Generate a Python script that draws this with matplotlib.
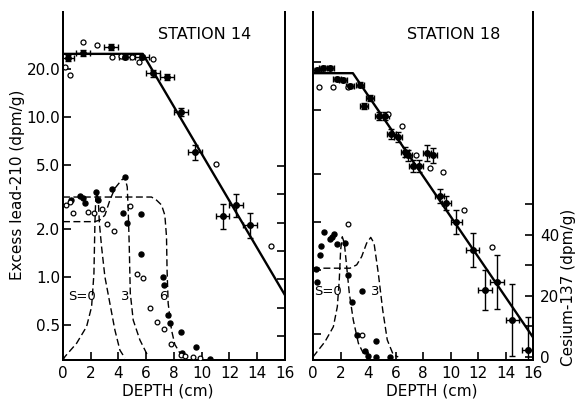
import matplotlib
matplotlib.use("Agg")
import matplotlib.pyplot as plt
from matplotlib.ticker import NullLocator
import numpy as np

plt.rcParams['font.family'] = ['DejaVu Sans']

# ---------------- Station 14 data ----------------
s14_pb_x = [0.35, 1.45, 3.45, 4.45, 5.7, 6.5, 7.5, 8.5, 9.5, 11.5, 12.5, 13.5]
s14_pb_y = [23.4, 25.1, 27.4, 23.7, 23.7, 18.8, 17.8, 10.7, 6.0, 2.4, 2.8, 2.1]
s14_pb_xerr = [0.45, 0.5, 0.5, 0.4, 0.5, 0.5, 0.5, 0.5, 0.5, 0.5, 0.5, 0.5]
s14_pb_yfac = [1.04, 1.04, 1.04, 1.03, 1.03, 1.05, 1.05, 1.06, 1.12, 1.2, 1.18, 1.2]
s14_pb_open_x = [0.15, 0.5, 1.45, 2.45, 3.5, 4.2, 5.0, 5.5, 6.5, 11.0, 15.0]
s14_pb_open_y = [20.5, 18.3, 29.5, 28.3, 23.7, 24.0, 23.8, 22.0, 23.0, 5.1, 1.56]
s14_line_x = [0, 5.75, 16]
s14_line_y = [24.8, 24.8, 0.77]

s14_cs_x = [0.55, 1.2, 1.45, 1.6, 2.4, 2.5, 3.5, 4.5, 4.3, 4.6, 5.6, 5.6,
            7.2, 7.3, 7.6, 7.7, 8.5, 8.6, 9.6, 10.6]
s14_cs_y = [58.0, 59.5, 58.7, 57.0, 60.9, 58.0, 61.9, 66.2, 53.4, 49.9, 53.1, 39.0,
            30.8, 28.0, 17.4, 14.6, 11.4, 4.0, 6.1, 1.9]
s14_cs_open_x = [0.2, 0.5, 0.7, 1.8, 2.2, 2.8, 3.2, 3.7, 4.8, 5.3, 5.8, 6.3,
                 6.8, 7.3, 7.8, 8.5, 8.8, 9.4, 9.9]
s14_cs_open_y = [56.3, 57.3, 53.4, 53.8, 53.4, 54.9, 49.6, 47.1, 55.9, 31.9, 30.5, 19.9,
                 14.9, 12.5, 7.2, 3.3, 2.9, 2.6, 2.2]

# model curves (Cs-137), Station 14
s14_m0_x = [0.0, 0.14, 0.98, 1.7, 2.06, 2.23, 2.3, 2.36, 2.45, 2.54, 2.62, 2.78, 3.02, 3.38, 3.74, 4.1, 4.46]
s14_m0_y = [1.5, 2.7, 7.4, 13.3, 20.3, 32.1, 49.8, 58.5, 60.5, 58.5, 50.0, 41.5, 30.9, 21.5, 12.1, 5.0, 2.2]
s14_m3_x = [0.0, 2.3, 2.66, 3.02, 3.38, 3.74, 4.22, 4.46, 4.63, 4.7, 4.77, 4.85, 5.06, 5.54, 6.14]
s14_m3_y = [50.4, 50.4, 51.0, 52.7, 58.0, 62.2, 65.1, 66.0, 62.7, 54.5, 42.7, 25.1, 15.6, 8.6, 2.7]
s14_m6_x = [0.0, 6.38, 6.74, 7.1, 7.34, 7.46, 7.5, 7.58, 7.82, 8.06, 8.54, 8.8]
s14_m6_y = [59.1, 59.1, 58.0, 56.3, 52.7, 45.1, 33.3, 21.5, 12.1, 7.0, 3.0, 2.0]

# ---------------- Station 18 data ----------------
s18_pb_x = [0.3, 0.75, 1.2, 1.75, 2.2, 2.7, 3.4, 3.7, 4.15, 4.8, 5.2, 5.7, 6.2, 6.7, 6.9,
            7.3, 7.7, 8.3, 8.7, 9.2, 9.7, 10.4, 11.6, 12.5, 13.4, 14.5, 15.6]
s18_pb_y = [8.9, 9.2, 9.2, 7.8, 7.7, 7.1, 7.2, 5.3, 5.95, 4.6, 4.6, 3.55, 3.4, 2.73, 2.6,
            2.24, 2.24, 2.7, 2.6, 1.45, 1.31, 1.0, 0.67, 0.376, 0.42, 0.244, 0.158]
s18_pb_xerr = [0.3, 0.3, 0.3, 0.3, 0.3, 0.3, 0.3, 0.3, 0.3, 0.3, 0.3, 0.3, 0.3, 0.3, 0.3,
               0.3, 0.3, 0.3, 0.3, 0.3, 0.3, 0.4, 0.5, 0.5, 0.5, 0.5, 0.4]
s18_pb_yfac = [1.03, 1.03, 1.03, 1.03, 1.03, 1.03, 1.04, 1.05, 1.05, 1.06, 1.06, 1.07, 1.07,
               1.08, 1.08, 1.09, 1.09, 1.12, 1.12, 1.1, 1.1, 1.19, 1.28, 1.33, 1.47, 1.68, 1.6]
s18_pb_open_x = [0.45, 1.45, 2.55, 5.45, 6.5, 7.5, 8.5, 9.45, 11.0, 13.0]
s18_pb_open_y = [7.0, 7.0, 7.0, 4.7, 4.0, 2.6, 2.17, 2.05, 1.19, 0.70]
s18_line_x = [0, 2.9, 16]
s18_line_y = [8.5, 8.5, 0.19]

s18_cs_x = [0.82, 1.24, 1.4, 1.55, 0.57, 0.5, 1.75, 2.33, 2.55, 2.83, 3.2, 3.55, 3.8,
            4.58, 0.3, 0.2, 4.6, 5.6, 4.0]
s18_cs_y = [41.0, 38.7, 39.3, 40.3, 36.4, 33.4, 37.0, 37.4, 26.9, 18.0, 7.2, 21.6, 2.0,
            5.2, 24.6, 29.0, 0.0, 0.0, 0.2]
s18_cs_open_x = [2.55, 3.55]
s18_cs_open_y = [43.6, 7.2]

s18_m0_x = [0.0, 0.87, 1.48, 1.77, 1.91, 2.01, 2.13, 2.28, 2.45, 2.64, 2.93, 3.3, 3.78]
s18_m0_y = [0.0, 5.0, 9.9, 16.5, 25.2, 35.1, 39.4, 37.3, 29.6, 20.9, 12.1, 4.5, 0.1]
s18_m3_x = [0.0, 2.69, 3.18, 3.54, 3.9, 4.2, 4.44, 4.75, 5.07, 5.4, 5.84, 6.2]
s18_m3_y = [29.1, 29.1, 30.2, 32.9, 37.3, 39.2, 37.3, 27.4, 15.4, 5.6, 0.7, 0.0]

depth_ticks = [0, 2, 4, 6, 8, 10, 12, 14, 16]
pb_ticks_14 = [20, 10, 5, 2, 1, 0.5]
pb_labels_14 = ['20.0', '10.0', '5.0', '2.0', '1.0', '0.5']
pb_ticks_18 = [10, 5, 2, 1, 0.5, 0.2]
cs_ticks_14 = [10, 20, 30, 40, 50, 60, 70]
cs_ticks_18 = [0, 10, 20, 30, 40, 50]
cs_labels_18 = ['0', '', '20', '', '40', '']

FS = 11
fig = plt.figure(figsize=(5.77, 4.0), dpi=100)
ax1 = fig.add_axes([63/577, 40/400, 222/577, 348/400])
ax2 = fig.add_axes([313/577, 40/400, 220/577, 348/400])

def style(ax):
    ax.spines['top'].set_visible(False)
    for s in ['left', 'right', 'bottom']:
        ax.spines[s].set_linewidth(1.4)
    ax.tick_params(direction='in', length=6, width=1.2, labelsize=FS)
    ax.yaxis.set_minor_locator(NullLocator())
    ax.xaxis.set_minor_locator(NullLocator())

def errs(y, f):
    y = np.array(y); f = np.array(f)
    return [y - y / f, y * f - y]

dash = (0, (5, 2.5))

# ---- Station 14 ----
ax = ax1
ax.set_yscale('log')
ax.set_xlim(0, 16)
ax.set_ylim(0.303, 45.3)
ax.plot(s14_line_x, s14_line_y, color='black', lw=1.7, zorder=3)
ax.errorbar(s14_pb_x, s14_pb_y, xerr=s14_pb_xerr, yerr=errs(s14_pb_y, s14_pb_yfac),
            fmt='o', ms=4, color='black', ecolor='black', elinewidth=1.0, capsize=2, zorder=4)
ax.plot(s14_pb_open_x, s14_pb_open_y, 'o', ms=3.6, mfc='white', mec='black', mew=0.9, zorder=4)
ax.set_xticks(depth_ticks)
ax.set_yticks(pb_ticks_14)
ax.set_yticklabels(pb_labels_14)
style(ax)
ax.tick_params(axis='y', pad=2)
ax.tick_params(axis='x', pad=4)
ax.set_xlabel('DEPTH (cm)', fontsize=FS)
ax.xaxis.set_label_coords(0.473, -0.068)
ax.text(0.64, 0.935, 'STATION 14', transform=ax.transAxes, ha='center', va='center', fontsize=11.5)

axc = ax.twinx()
axc.set_ylim(1.5, 124.5)
axc.plot(s14_m0_x, s14_m0_y, color='black', lw=1.0, ls=dash)
axc.plot(s14_m3_x, s14_m3_y, color='black', lw=1.0, ls=dash)
axc.plot(s14_m6_x, s14_m6_y, color='black', lw=1.0, ls=dash)
axc.plot(s14_cs_x, s14_cs_y, 'o', ms=3.6, color='black', zorder=4)
axc.plot(s14_cs_open_x, s14_cs_open_y, 'o', ms=3.4, mfc='white', mec='black', mew=0.9, zorder=4)
axc.set_yticks(cs_ticks_14)
axc.set_yticklabels([])
style(axc)
axc.text(1.4, 24, 'S=0', ha='center', va='center', fontsize=9.5)
axc.text(4.5, 24, '3', ha='center', va='center', fontsize=9.5)
axc.text(7.2, 24, '6', ha='center', va='center', fontsize=9.5)

# ---- Station 18 ----
ax = ax2
ax.set_yscale('log')
ax.set_xlim(0, 16)
ax.set_ylim(0.137, 20.5)
ax.plot(s18_line_x, s18_line_y, color='black', lw=1.7, zorder=3)
ax.errorbar(s18_pb_x, s18_pb_y, xerr=s18_pb_xerr, yerr=errs(s18_pb_y, s18_pb_yfac),
            fmt='o', ms=4, color='black', ecolor='black', elinewidth=1.0, capsize=2, zorder=4)
ax.plot(s18_pb_open_x, s18_pb_open_y, 'o', ms=3.6, mfc='white', mec='black', mew=0.9, zorder=4)
ax.set_xticks(depth_ticks)
ax.set_yticks(pb_ticks_18)
ax.set_yticklabels([])
style(ax)
ax.tick_params(axis='x', pad=4)
ax.set_xlabel('DEPTH (cm)', fontsize=FS)
ax.xaxis.set_label_coords(0.541, -0.068)
ax.text(0.64, 0.935, 'STATION 18', transform=ax.transAxes, ha='center', va='center', fontsize=11.5)

axc = ax.twinx()
axc.set_ylim(-1.0, 113.1)
axc.plot(s18_m0_x, s18_m0_y, color='black', lw=1.0, ls=dash)
axc.plot(s18_m3_x, s18_m3_y, color='black', lw=1.0, ls=dash)
axc.plot(s18_cs_x, s18_cs_y, 'o', ms=3.6, color='black', zorder=4)
axc.plot(s18_cs_open_x, s18_cs_open_y, 'o', ms=3.4, mfc='white', mec='black', mew=0.9, zorder=4)
axc.set_yticks(cs_ticks_18)
axc.set_yticklabels(cs_labels_18)
style(axc)
axc.tick_params(axis='y', pad=5)
axc.text(1.1, 21.5, 'S=0', ha='center', va='center', fontsize=9.5)
axc.text(4.5, 21.5, '3', ha='center', va='center', fontsize=9.5)

fig.text(18/577, 1 - 185/400, 'Excess lead-210 (dpm/g)', rotation=90, ha='center', va='center', fontsize=FS)
fig.text(569/577, 1 - 287/400, 'Cesium-137 (dpm/g)', rotation=90, ha='center', va='center', fontsize=FS)

fig.savefig('out.png', dpi=100)
